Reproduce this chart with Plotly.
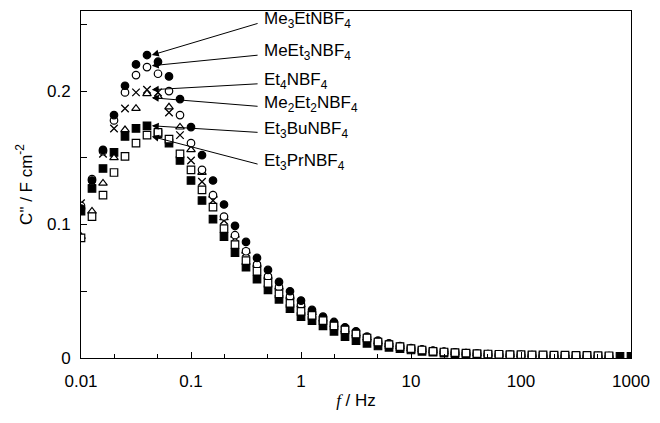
import numpy as np
import plotly.graph_objects as go

# frequency index: f = 10^(-2 + i/10)
freq = [10 ** (-2 + i / 10) for i in range(51)]

me3et = [0.112, 0.133, 0.156, 0.182, 0.204, 0.220, 0.227, 0.222, 0.211, 0.194,
         0.173, 0.152, 0.133, 0.115, 0.099, 0.087, 0.075, 0.066, 0.057, 0.050,
         0.043, 0.036, 0.031, 0.027, 0.023, 0.020, 0.016, 0.013, 0.011, 0.009,
         0.0075, 0.0065, 0.0055, 0.0048, 0.0042, 0.0037, 0.0033, 0.0030, 0.0027, 0.0025,
         0.0023, 0.0021, 0.0020, 0.0019, 0.0018, 0.0017, 0.0016, 0.0015, 0.0014]
meet3 = [0.114, 0.134, 0.155, 0.178, 0.199, 0.212, 0.218, 0.213, 0.200, 0.182,
         0.161, 0.141, 0.122, 0.106, 0.092, 0.080, 0.070, 0.061, 0.053, 0.046,
         0.040, 0.034, 0.029, 0.025, 0.021, 0.018, 0.015, 0.012, 0.010, 0.0085,
         0.0070, 0.0060, 0.0052, 0.0045, 0.0040, 0.0035, 0.0031, 0.0028, 0.0026, 0.0024,
         0.0022, 0.0020, 0.0019, 0.0018, 0.0017, 0.0016, 0.0015, 0.0014, 0.0013]
et4 = [0.116, 0.132, 0.153, 0.172, 0.187, 0.199, 0.201, 0.199, 0.184, 0.167,
       0.148, 0.132, 0.118, 0.103, 0.090, 0.079, 0.069, 0.060, 0.052, 0.045,
       0.039, 0.034, 0.029, 0.025, 0.021, 0.018, 0.015, 0.012, 0.010, 0.0085,
       0.0070, 0.0060, 0.0052, 0.0045, 0.0040, 0.0035, 0.0031, 0.0028, 0.0026, 0.0024,
       0.0022, 0.0020, 0.0019, 0.0018, 0.0017, 0.0016, 0.0015, 0.0014, 0.0013]
me2et2 = [0.091, 0.110, 0.131, 0.150, 0.171, 0.187, 0.198, 0.196, 0.188, 0.173,
          0.156, 0.139, 0.122, 0.105, 0.092, 0.080, 0.070, 0.061, 0.053, 0.046,
          0.040, 0.034, 0.029, 0.025, 0.021, 0.018, 0.015, 0.012, 0.010, 0.0085,
          0.0070, 0.0060, 0.0052, 0.0045, 0.0040, 0.0035, 0.0031, 0.0028, 0.0026, 0.0024,
          0.0022, 0.0020, 0.0019, 0.0018, 0.0017, 0.0016, 0.0015, 0.0014, 0.0013]
et3bu = [0.110, 0.127, 0.142, 0.154, 0.166, 0.172, 0.174, 0.168, 0.161, 0.148,
         0.133, 0.118, 0.104, 0.091, 0.079, 0.068, 0.059, 0.051, 0.044, 0.037,
         0.031, 0.028, 0.024, 0.020, 0.016, 0.013, 0.011, 0.009, 0.008, 0.007,
         0.006, 0.005, 0.0043, 0.0037, 0.0032, 0.0028, 0.0025, 0.0022, 0.0020, 0.0018,
         0.0017, 0.0016, 0.0015, 0.0014, 0.0013, 0.0012, 0.0011, 0.0010, 0.0010, 0.0012,
         0.0012]
et3pr = [0.090, 0.106, 0.122, 0.139, 0.151, 0.161, 0.167, 0.169, 0.164, 0.153,
         0.141, 0.126, 0.113, 0.097, 0.085, 0.073, 0.065, 0.056, 0.048, 0.041,
         0.035, 0.032, 0.028, 0.024, 0.021, 0.018, 0.015, 0.012, 0.010, 0.0085,
         0.0070, 0.0060, 0.0050, 0.0045, 0.0040, 0.0036, 0.0033, 0.0030, 0.0028, 0.0026,
         0.0025, 0.0024, 0.0023, 0.0022, 0.0021, 0.0020, 0.0019, 0.0018, 0.0017]

labels = ["Me<sub>3</sub>EtNBF<sub>4</sub>", "MeEt<sub>3</sub>NBF<sub>4</sub>",
          "Et<sub>4</sub>NBF<sub>4</sub>", "Me<sub>2</sub>Et<sub>2</sub>NBF<sub>4</sub>",
          "Et<sub>3</sub>BuNBF<sub>4</sub>", "Et<sub>3</sub>PrNBF<sub>4</sub>"]
label_y = [0.253, 0.229, 0.2075, 0.1905, 0.171, 0.147]
tip_y = [0.227, 0.219, 0.201, 0.195, 0.174, 0.166]

xticks = [0.01, 0.1, 1, 10, 100, 1000]
xticktext = ["0.01", "0.1", "1", "10", "100", "1000"]

FONT = "Liberation Sans, Arial, sans-serif"
FS = 17

fig = go.Figure()

def add(y, symbol, filled, name):
    n = len(y)
    fig.add_trace(go.Scatter(
        x=freq[:n], y=y, mode="markers", name=name,
        marker=dict(symbol=symbol, size=7.5,
                    color="black" if filled else "white",
                    line=dict(color="black", width=1.2)),
        showlegend=False))

add(et3bu, "square", True, "Et3BuNBF4")
fig.add_trace(go.Scatter(x=freq[:len(et4)], y=et4, mode="markers", name="Et4NBF4",
                         marker=dict(symbol="x-thin", size=7.5,
                                     line=dict(color="black", width=1.3)),
                         showlegend=False))
add(me2et2, "triangle-up", False, "Me2Et2NBF4")
add(meet3, "circle", False, "MeEt3NBF4")
add(me3et, "circle", True, "Me3EtNBF4")
add(et3pr, "square", False, "Et3PrNBF4")

tip_x = np.log10(0.044)
tail_x = -2 + (262 - 81) / 111.8
text_x = -2 + (265 - 81) / 111.8
for lab, ly, ty in zip(labels, label_y, tip_y):
    fig.add_annotation(x=tip_x, y=ty, ax=tail_x, ay=ly - 0.002, axref="x", ayref="y",
                       xref="x", yref="y", text="", showarrow=True,
                       arrowhead=2, arrowsize=1.4, arrowwidth=1, arrowcolor="black",
                       standoff=0, startstandoff=0)
    fig.add_annotation(x=text_x, y=ly, xref="x", yref="y", text=lab, showarrow=False,
                       xanchor="left", yanchor="middle",
                       font=dict(family=FONT, size=FS, color="black"))

fig.update_xaxes(type="log", range=[-2, 3], tickvals=xticks, ticktext=xticktext,
                 ticks="inside", ticklen=6, tickcolor="black", showline=True,
                 linecolor="black", linewidth=1, mirror=True, showgrid=False,
                 zeroline=False, ticklabelstandoff=8,
                 minor=dict(ticks="inside", ticklen=4, tickcolor="black", showgrid=False),
                 tickfont=dict(family=FONT, size=FS, color="black"),
                 title=dict(text='<span style="font-family:Liberation Serif"><i>f</i></span> / Hz',
                            font=dict(family=FONT, size=FS, color="black"), standoff=3))
fig.update_yaxes(range=[0, 0.26], tickvals=[0, 0.1, 0.2], ticktext=["0", "0.1", "0.2"],
                 ticks="inside", ticklen=6, tickcolor="black", showline=True,
                 linecolor="black", linewidth=1, mirror=True, showgrid=False,
                 zeroline=False, ticklabelstandoff=6,
                 minor=dict(ticks="inside", ticklen=6, tickcolor="black", dtick=0.05,
                            showgrid=False),
                 tickfont=dict(family=FONT, size=FS, color="black"),
                 title=dict(text='C" / F cm<sup>-2</sup>',
                            font=dict(family=FONT, size=FS, color="black"), standoff=10))

fig.update_layout(width=660, height=423, margin=dict(l=81, r=20, t=10, b=65),
                  plot_bgcolor="white", paper_bgcolor="white")

fig.write_html("out.html")
